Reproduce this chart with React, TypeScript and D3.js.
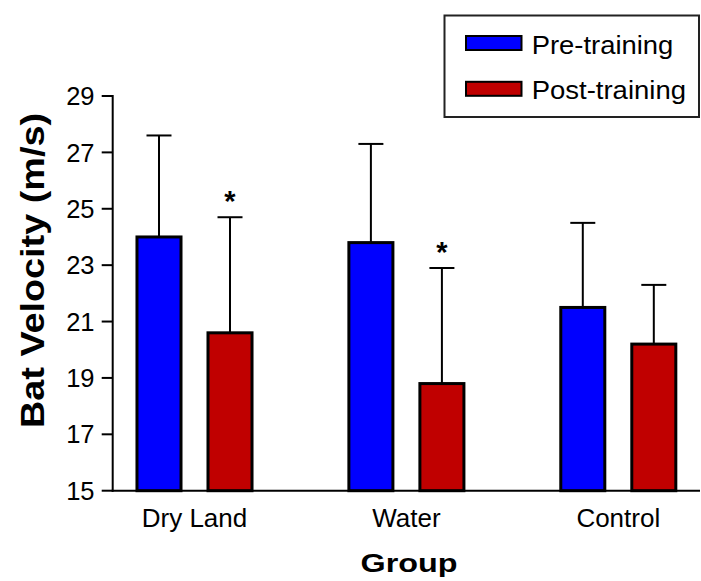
import React, { useEffect } from "react";
import * as d3 from "d3";

const categories = ["Dry Land", "Water", "Control"];
const seriesNames = ["Pre-training", "Post-training"];
const preMeans = [24.0, 23.8, 21.5];
const preErrors = [3.6, 3.5, 3.0];
const postMeans = [20.6, 18.8, 20.2];
const postErrors = [4.1, 4.1, 2.1];
const significant = [true, true, false];
const yTicks = [15, 17, 19, 21, 23, 25, 27, 29];
const colors = ["#0000FF", "#C00000"];

const W = 701;
const H = 581;
const FONT = "'Liberation Sans', Arial, Helvetica, sans-serif";

export default function App() {
  useEffect(() => {
    document.body.style.margin = "0";
  }, []);

  const y = d3.scaleLinear().domain([15, 29]).range([490.7, 96]);
  const x0 = d3.scaleBand<string>().domain(categories).range([88.55, 724.25]).padding(0);
  const x1 = d3
    .scaleBand<string>()
    .domain(seriesNames)
    .range([0, x0.bandwidth()])
    .paddingInner(0.38)
    .paddingOuter(0.682);

  const axisX = 112.7;
  const axisY = y(15);

  const series = [
    { name: seriesNames[0], means: preMeans, errs: preErrors, color: colors[0] },
    { name: seriesNames[1], means: postMeans, errs: postErrors, color: colors[1] },
  ];

  return (
    <svg width={W} height={H} style={{ position: "absolute", left: 0, top: 0, background: "#fff" }} fontFamily={FONT}>
      <rect x={0} y={0} width={W} height={H} fill="#fff" />
      {categories.map((c, i) => (
        <g key={c}>
          {series.map((s) => {
            const bx = (x0(c) as number) + (x1(s.name) as number);
            const bw = x1.bandwidth();
            const cx = bx + bw / 2;
            const top = y(s.means[i]);
            const errTop = y(s.means[i] + s.errs[i]);
            return (
              <g key={s.name}>
                <line x1={cx} x2={cx} y1={top} y2={errTop} stroke="#000" strokeWidth={2} />
                <line x1={cx - 12.5} x2={cx + 12.5} y1={errTop} y2={errTop} stroke="#000" strokeWidth={2} />
                <rect x={bx} y={top} width={bw} height={axisY - top} fill={s.color} stroke="#000" strokeWidth={3} />
                {s.name === seriesNames[1] && significant[i] ? (
                  <text x={cx} y={errTop - 6} textAnchor="middle" fontSize={29} fontWeight="bold" fill="#000">
                    *
                  </text>
                ) : null}
              </g>
            );
          })}
        </g>
      ))}
      <line x1={axisX} x2={axisX} y1={y(29) - 1} y2={axisY + 1} stroke="#000" strokeWidth={2} />
      {yTicks.map((t) => (
        <g key={t}>
          <line x1={axisX - 11} x2={axisX} y1={y(t)} y2={y(t)} stroke="#000" strokeWidth={2} />
          <text x={94.5} y={y(t)} dy="0.36em" textAnchor="end" fontSize={25.5} fill="#000">
            {t}
          </text>
        </g>
      ))}
      <line x1={axisX - 1} x2={700} y1={axisY} y2={axisY} stroke="#000" strokeWidth={2} />
      {categories.map((c) => (
        <text
          key={c}
          x={(x0(c) as number) + x0.bandwidth() / 2}
          y={527}
          textAnchor="middle"
          fontSize={26}
          fill="#000"
        >
          {c}
        </text>
      ))}
      <text x={409} y={571.5} textAnchor="middle" fontSize={26.5} fontWeight="bold" fill="#000" textLength={97} lengthAdjust="spacingAndGlyphs">
        Group
      </text>
      <text
        transform={`translate(43.5,270.5) rotate(-90)`}
        textAnchor="middle"
        fontSize={33}
        fontWeight="bold"
        fill="#000"
        textLength={315}
        lengthAdjust="spacingAndGlyphs"
      >
        Bat Velocity (m/s)
      </text>
      <rect x={444.5} y={15.5} width={254.5} height={101.5} fill="#fff" stroke="#222" strokeWidth={2} />
      {series.map((s, k) => (
        <g key={s.name}>
          <rect x={466} y={k === 0 ? 36 : 81.8} width={55.5} height={14} fill={s.color} stroke="#000" strokeWidth={2} />
          <text
            x={531.7}
            y={k === 0 ? 53.5 : 98.7}
            fontSize={26}
            fill="#000"
            textLength={k === 0 ? 141.6 : 154.3}
            lengthAdjust="spacingAndGlyphs"
          >
            {s.name}
          </text>
        </g>
      ))}
    </svg>
  );
}
